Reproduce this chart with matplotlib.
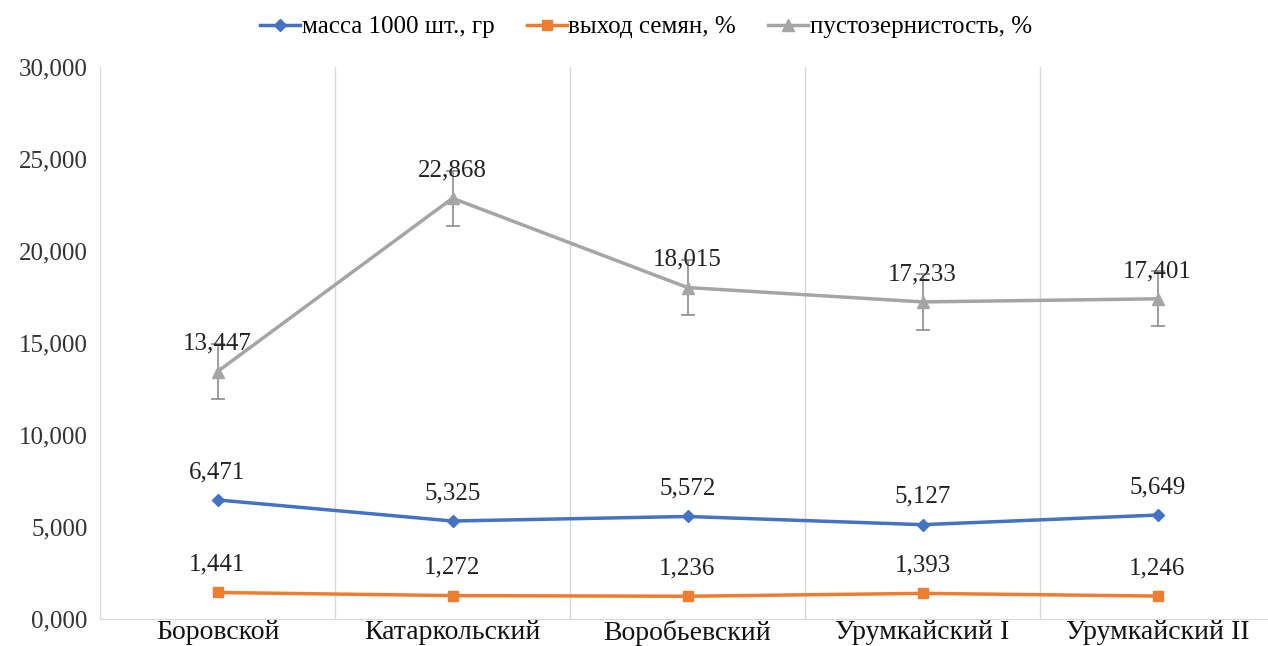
import matplotlib
matplotlib.use("Agg")
from matplotlib import pyplot as plt
from matplotlib.lines import Line2D

# データ
categories = ["Боровской", "Катаркольский", "Воробьевский", "Урумкайский I", "Урумкайский II"]
massa = [6.471, 5.325, 5.572, 5.127, 5.649]
vyhod = [1.441, 1.272, 1.236, 1.393, 1.246]
pusto = [13.447, 22.868, 18.015, 17.233, 17.401]
pusto_err = [1.5, 1.5, 1.5, 1.5, 1.5]
series_names = ["масса 1000 шт., гр", "выход семян, %", "пустозернистость, %"]
yticks = [0, 5, 10, 15, 20, 25, 30]


def fmt(v):
    return f"{v:.3f}".replace(".", ",")


plt.rcParams['font.family'] = ['Liberation Serif', 'DejaVu Serif']

fig = plt.figure(figsize=(12.68, 6.46), dpi=100)
ax = fig.add_axes([100 / 1268, 27 / 646, 1175 / 1268, 552 / 646])

x = list(range(len(categories)))

ax.plot(x, massa, color="#4472C4", lw=2.5, marker="D", ms=6, zorder=3)
ax.plot(x, vyhod, color="#ED7D31", lw=2.5, marker="s", ms=7, zorder=3)
ax.errorbar(x, pusto, yerr=pusto_err, color="#A5A5A5", lw=2.5, marker="^", ms=9,
            ecolor="#8C8C8C", elinewidth=1.2, capsize=5, capthick=1.2, zorder=3)

# データラベル
for vals in (massa, vyhod, pusto):
    for xi, v in zip(x, vals):
        ax.annotate(fmt(v), (xi, v), xytext=(0, 20), textcoords="offset points",
                    ha="center", va="center", fontsize=18, color="#222222")

ax.set_xlim(-0.5, 4.5)
ax.set_ylim(0, 30)
ax.set_yticks(yticks)
ax.set_yticklabels([fmt(t) for t in yticks], fontsize=18, color="#333333")
ax.set_xticks(x)
ax.set_xticklabels(categories, fontsize=20, color="#111111")
ax.set_xticks([0.5, 1.5, 2.5, 3.5], minor=True)
ax.grid(which="minor", axis="x", color="#D9D9D9", lw=1)
ax.tick_params(axis="both", which="both", length=0)
ax.tick_params(axis="x", pad=0.5)
ax.tick_params(axis="y", pad=9)

for s in ("top", "right"):
    ax.spines[s].set_visible(False)
for s in ("left", "bottom"):
    ax.spines[s].set_color("#D9D9D9")

# 凡例
handles = [
    Line2D([], [], color="#4472C4", lw=2.5, marker="D", ms=6),
    Line2D([], [], color="#ED7D31", lw=2.5, marker="s", ms=7),
    Line2D([], [], color="#A5A5A5", lw=2.5, marker="^", ms=9),
]
fig.legend(handles, series_names, loc="center", bbox_to_anchor=(646 / 1268, 1 - 27 / 646),
           ncol=3, frameon=False, fontsize=18, handlelength=1.6, columnspacing=1.3,
           handletextpad=0.05)

fig.savefig("out.png", dpi=100)
